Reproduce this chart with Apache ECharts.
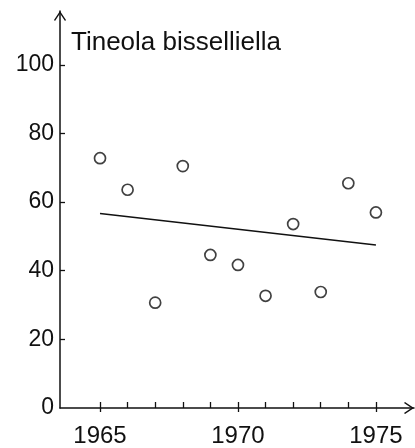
<!DOCTYPE html>
<html>
<head>
<meta charset="utf-8">
<script src="https://cdn.jsdelivr.net/npm/echarts@6/dist/echarts.min.js"></script>
<style>html,body{margin:0;padding:0;background:#fff;}#c{width:415px;height:448px;}</style>
</head>
<body>
<div id="c"></div>
<script>
const years = [1965, 1966, 1967, 1968, 1969, 1970, 1971, 1972, 1973, 1974, 1975];
const values = [72.8, 63.6, 30.7, 70.5, 44.6, 41.7, 32.7, 53.6, 33.8, 65.5, 57.0];
const trendYears = [1965, 1975];
const trendValues = [56.7, 47.5];
const xTickLabels = [1965, 1970, 1975];
const yTickLabels = [0, 20, 40, 60, 80, 100];
const titleText = 'Tineola bisselliella';

const chevron = 'path://M6 0 L12 9 L11 10 L6 2.6 L1 10 L0 9 Z';
const font = '"Liberation Sans", Arial, sans-serif';
const ink = '#111';

const chart = echarts.init(document.getElementById('c'));
chart.setOption({
  animation: false,
  backgroundColor: '#fff',
  title: {
    text: titleText,
    left: 71, top: 30, padding: 0,
    textStyle: { fontFamily: font, fontSize: 26, fontWeight: 'normal', color: ink }
  },
  grid: { left: 60, right: 1, top: 11, bottom: 38, containLabel: false },
  xAxis: [{
    type: 'value', min: 1963.55, max: 1976.38,
    axisLine: { show: true, lineStyle: { color: ink, width: 1.5 },
      symbol: ['none', chevron], symbolSize: [14, 10], symbolOffset: [0, -5] },
    axisTick: { show: true, inside: true, length: 6, lineStyle: { color: ink, width: 1.3 }, customValues: years },
    axisLabel: { show: true, customValues: xTickLabels, margin: 16, fontFamily: font, fontSize: 24, color: ink,
      formatter: v => String(v) },
    splitLine: { show: false }
  }, {
    type: 'value', min: 1963.55, max: 1976.38, position: 'bottom',
    axisLine: { show: false },
    axisTick: { show: true, inside: false, length: 4, lineStyle: { color: ink, width: 1.3 }, customValues: xTickLabels },
    axisLabel: { show: false },
    splitLine: { show: false }
  }],
  yAxis: {
    type: 'value', min: 0, max: 115.7,
    axisLine: { show: true, lineStyle: { color: ink, width: 1.5 },
      symbol: ['none', chevron], symbolSize: [12, 10], symbolOffset: [0, -5] },
    axisTick: { show: true, inside: true, length: 5, lineStyle: { color: ink, width: 1.3 }, customValues: [20, 40, 60, 80, 100] },
    axisLabel: { show: true, customValues: yTickLabels, margin: 6, fontFamily: font, fontSize: 23, color: ink,
      verticalAlign: 'middle', padding: [0, 0, 8, 0] },
    splitLine: { show: false }
  },
  series: [{
    type: 'scatter',
    data: years.map((y, i) => [y, values[i]]),
    symbol: 'circle', symbolSize: 11,
    itemStyle: { color: '#fff', borderColor: ink, borderWidth: 1.7 },
    z: 3
  }, {
    type: 'line',
    data: trendYears.map((y, i) => [y, trendValues[i]]),
    symbol: 'none',
    lineStyle: { color: ink, width: 1.5 },
    z: 2
  }]
});
</script>
</body>
</html>
